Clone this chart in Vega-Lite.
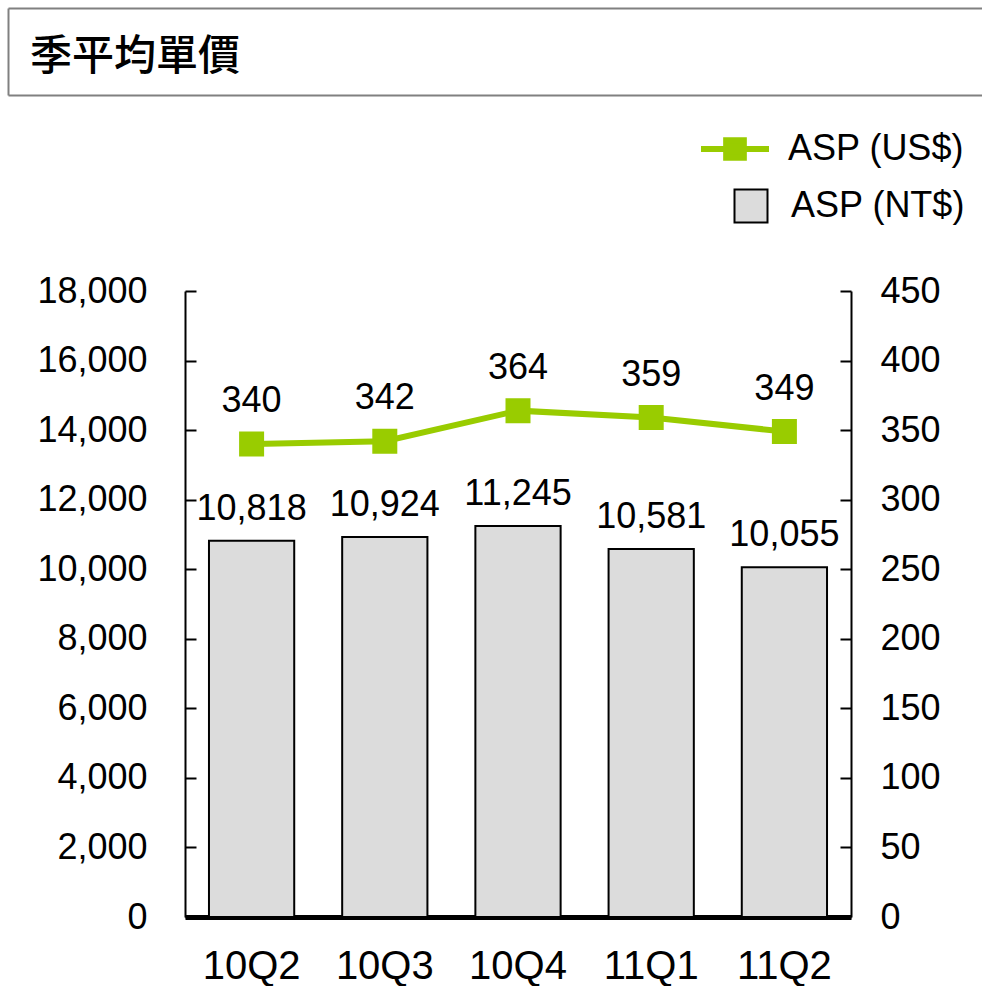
{
  "$schema": "https://vega.github.io/schema/vega-lite/v6.json",
  "padding": {"left": 7, "top": 8, "right": 0, "bottom": 0},
  "background": "white",
  "config": {"font": "Liberation Sans", "view": {"stroke": null}},
  "spacing": 17,
  "resolve": {"legend": {"fill": "independent", "stroke": "independent"}},
  "vconcat": [
    {
      "width": 797,
      "height": 87,
      "data": {"values": [{"t": "季平均單價", "p": 0}]},
      "layer": [
        {
          "mark": {"type": "text", "align": "left", "baseline": "middle", "dx": 22, "dy": 5, "font": "Noto Sans CJK TC", "fontSize": 42, "fontWeight": 500, "color": "black"},
          "encoding": {
            "text": {"field": "t"},
            "x": {"field": "p", "type": "quantitative", "scale": {"domain": [0, 1], "range": [-177, 797]},
              "axis": {"orient": "top", "labels": false, "ticks": false, "grid": false, "title": null, "domainColor": "#808080", "domainWidth": 2}},
            "y": {"datum": 0.5, "type": "quantitative", "scale": {"domain": [0, 1]},
              "axis": {"orient": "left", "offset": 177, "labels": false, "ticks": false, "grid": false, "title": null, "domainColor": "#808080", "domainWidth": 2}}
          }
        },
        {
          "mark": {"type": "text"},
          "encoding": {
            "text": {"value": ""},
            "x": {"field": "p", "type": "quantitative",
              "axis": {"orient": "bottom", "labels": false, "ticks": false, "grid": false, "title": null, "domainColor": "#808080", "domainWidth": 2}}
          }
        }
      ],
      "resolve": {"axis": {"x": "independent"}}
    },
    {
      "width": 666,
      "height": 626,
      "data": {"values": [
        {"q": "10Q2", "nt": 10818, "us": 340},
        {"q": "10Q3", "nt": 10924, "us": 342},
        {"q": "10Q4", "nt": 11245, "us": 364},
        {"q": "11Q1", "nt": 10581, "us": 359},
        {"q": "11Q2", "nt": 10055, "us": 349}
      ]},
      "layer": [
        {
          "layer": [
            {
              "mark": {"type": "bar", "stroke": "black", "strokeWidth": 2},
              "encoding": {
                "x": {"field": "q", "type": "nominal", "sort": null, "scale": {"paddingInner": 0.36, "paddingOuter": 0.18},
                  "axis": {"title": null, "labelAngle": 0, "labelFontSize": 40, "labelColor": "black", "labelPadding": 29, "ticks": false, "domainColor": "black", "domainWidth": 5}},
                "y": {"field": "nt", "type": "quantitative", "scale": {"domain": [0, 18000], "nice": false},
                  "axis": {"orient": "left", "title": null, "grid": false, "values": [0, 2000, 4000, 6000, 8000, 10000, 12000, 14000, 16000, 18000], "format": ",d", "labelFontSize": 36, "labelColor": "black", "labelPadding": 49, "tickSize": -11, "tickWidth": 2, "tickColor": "black", "domainColor": "black", "domainWidth": 2, "minExtent": 178}},
                "fill": {"datum": "ASP (NT$)", "type": "nominal", "scale": {"range": ["#dcdcdc"]},
                  "legend": {"orient": "none", "legendX": 548, "legendY": -103, "title": null, "padding": 0, "symbolType": "square", "symbolSize": 1089, "symbolStrokeColor": "black", "symbolStrokeWidth": 2, "labelFontSize": 36, "labelColor": "black", "labelOffset": 22, "labelLimit": 0}}
              }
            },
            {
              "mark": {"type": "text", "dy": -21, "baseline": "alphabetic", "fontSize": 36, "color": "black"},
              "encoding": {
                "x": {"field": "q", "type": "nominal", "sort": null},
                "y": {"field": "nt", "type": "quantitative"},
                "text": {"field": "nt", "format": ","}
              }
            }
          ]
        },
        {
          "layer": [
            {
              "mark": {"type": "line", "strokeWidth": 6, "point": {"shape": "square", "size": 529, "filled": true, "color": "#99cc00"}},
              "encoding": {
                "x": {"field": "q", "type": "nominal", "sort": null},
                "y": {"field": "us", "type": "quantitative", "scale": {"domain": [0, 450], "nice": false},
                  "axis": {"orient": "right", "title": null, "grid": false, "values": [0, 50, 100, 150, 200, 250, 300, 350, 400, 450], "labelFontSize": 36, "labelColor": "black", "labelPadding": 40, "tickSize": -11, "tickWidth": 2, "tickColor": "black", "domainColor": "black", "domainWidth": 2}},
                "stroke": {"datum": "ASP (US$)", "type": "nominal", "scale": {"range": ["#99cc00"]},
                  "legend": {"orient": "none", "legendX": 513, "legendY": -179, "title": null, "padding": 0, "symbolType": "M-1,0L1,0M-0.26,-0.26L0.26,-0.26L0.26,0.26L-0.26,0.26Z", "symbolSize": 4624, "symbolFillColor": "#99cc00", "symbolStrokeColor": "#99cc00", "symbolStrokeWidth": 6, "labelFontSize": 36, "labelColor": "black", "labelOffset": 16, "labelLimit": 0}}
              }
            },
            {
              "mark": {"type": "text", "dy": -32, "baseline": "alphabetic", "fontSize": 36, "color": "black"},
              "encoding": {
                "x": {"field": "q", "type": "nominal", "sort": null},
                "y": {"field": "us", "type": "quantitative"},
                "text": {"field": "us"}
              }
            }
          ]
        }
      ],
      "resolve": {"scale": {"y": "independent"}}
    }
  ]
}
